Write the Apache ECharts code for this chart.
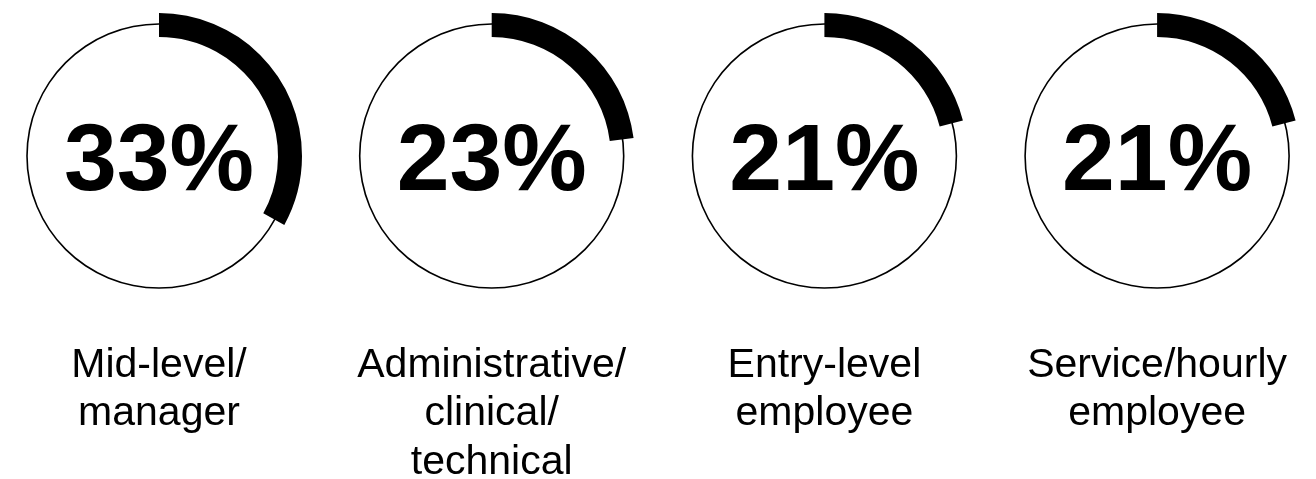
<!DOCTYPE html>
<html>
<head>
<meta charset="utf-8">
<style>
  html, body { margin: 0; padding: 0; background: #ffffff; }
  #chart { width: 1316px; height: 479px; }
</style>
<script src="https://cdn.jsdelivr.net/npm/echarts@6/dist/echarts.min.js"></script>
</head>
<body>
<div id="chart"></div>
<script>
// Share of respondents by job level (percent)
const categories = [
  'Mid-level/\nmanager',
  'Administrative/\nclinical/\ntechnical',
  'Entry-level\nemployee',
  'Service/hourly\nemployee'
];
const percentValues = [33, 23, 21, 21];

const chart = echarts.init(document.getElementById('chart'), null, { renderer: 'canvas' });

const firstCenterX = 159;
const centerStep = 332.7;
const centerY = 156;
const labelTop = 341;

const series = [];
const graphics = [];

categories.forEach(function (cat, i) {
  const cx = firstCenterX + i * centerStep;
  const v = percentValues[i];

  // thin full outline ring
  series.push({
    type: 'pie',
    silent: true,
    center: [cx, centerY],
    radius: [131.2, 132.8],
    label: { show: false },
    labelLine: { show: false },
    itemStyle: { color: '#000000' },
    data: [{ value: 1, name: cat + '-ring' }]
  });

  // thick progress arc from 12 o'clock, clockwise, with the value in the middle
  series.push({
    type: 'pie',
    silent: true,
    center: [cx, centerY],
    radius: [119, 143],
    startAngle: 90,
    clockwise: true,
    avoidLabelOverlap: false,
    labelLine: { show: false },
    label: {
      show: true,
      position: 'center',
      formatter: '{c}%',
      fontFamily: 'Liberation Sans, Arial, sans-serif',
      fontWeight: 'bold',
      fontSize: 95,
      color: '#000000',
      offset: [0, 8]
    },
    data: [
      { value: v, name: cat, itemStyle: { color: '#000000' } },
      { value: 100 - v, name: cat + '-rest', itemStyle: { color: 'rgba(0,0,0,0)' }, label: { show: false } }
    ]
  });

  graphics.push({
    type: 'text',
    x: cx,
    y: labelTop,
    silent: true,
    style: {
      text: cat,
      align: 'center',
      verticalAlign: 'top',
      fontFamily: 'Liberation Sans, Arial, sans-serif',
      fontSize: 41,
      lineHeight: 48.5,
      fill: '#000000'
    }
  });
});

chart.setOption({
  animation: false,
  backgroundColor: '#ffffff',
  series: series,
  graphic: graphics
});
</script>
</body>
</html>
